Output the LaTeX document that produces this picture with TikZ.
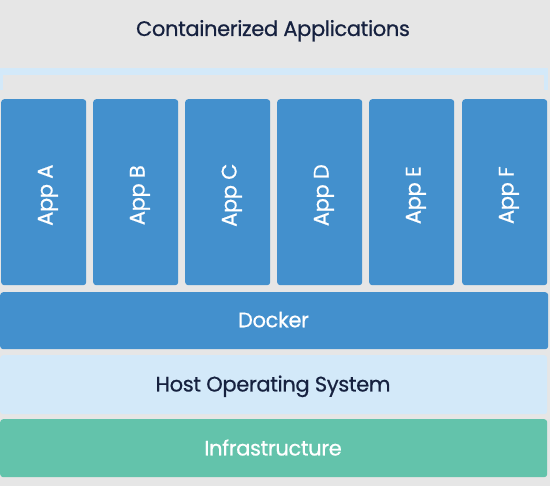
\documentclass[tikz,border=0pt]{standalone}
\usepackage{fontspec}
\setmainfont{Poppins}[LetterSpace=-1.7, FakeBold=0.6]
\usetikzlibrary{positioning}

\definecolor{bggray}{HTML}{E6E6E6}
\definecolor{appblue}{HTML}{4390CD}
\definecolor{hostblue}{HTML}{D3E9F9}
\definecolor{infragreen}{HTML}{63C3AB}
\definecolor{inkdark}{HTML}{16213F}

\begin{document}
\begin{tikzpicture}[x = 1pt, y = -1pt,
        layer/.style = {rounded corners = 3pt, inner sep = 0pt, anchor = north west},
        app/.style = {layer, fill = appblue, minimum width = 85pt, minimum height = 186pt},
        label/.style = {anchor = base, inner sep = 0pt, font = \fontsize{21}{24}\selectfont}]

                    % background
                    \fill[bggray] (0,0) rectangle (550,486);
                    \useasboundingbox (0,0) rectangle (550,486);

                    \node[label, inkdark] (title) at (273,36) {Containerized Applications};

                    % bracket over the apps
                    \fill[hostblue] (0,68) rectangle (548,75);
                    \fill[hostblue] (0,75) rectangle (3,90);
                    \fill[hostblue] (544,75) rectangle (548,90);

                    \foreach \x/\name in {1/appA, 93/appB, 185/appC, 277/appD, 369/appE, 462/appF}
                    \node[app] (\name) at (\x,99) {};
                    \foreach \name/\apptext in {appA/A, appB/B, appC/C, appD/D, appE/E, appF/F}
                    \node[label, white, rotate = 90] at ([xshift = 8.8pt, yshift = -3pt]\name.center) {App \apptext};

                    \node[layer, fill = appblue, minimum width = 548pt, minimum height = 57pt] (docker) at (0,292) {};
                    \node[label, white] at (273.5,327.3) {Docker};

                    \node[layer, fill = hostblue, minimum width = 547pt, minimum height = 59pt] (host) at (0,355) {};
                    \node[label, inkdark] at (273,391.5) {Host Operating System};

                    \node[layer, fill = infragreen, minimum width = 547pt, minimum height = 58pt] (infra) at (0,419) {};
                    \node[label, white] at (273,455.5) {Infrastructure};
                \end{tikzpicture}
\end{document}
